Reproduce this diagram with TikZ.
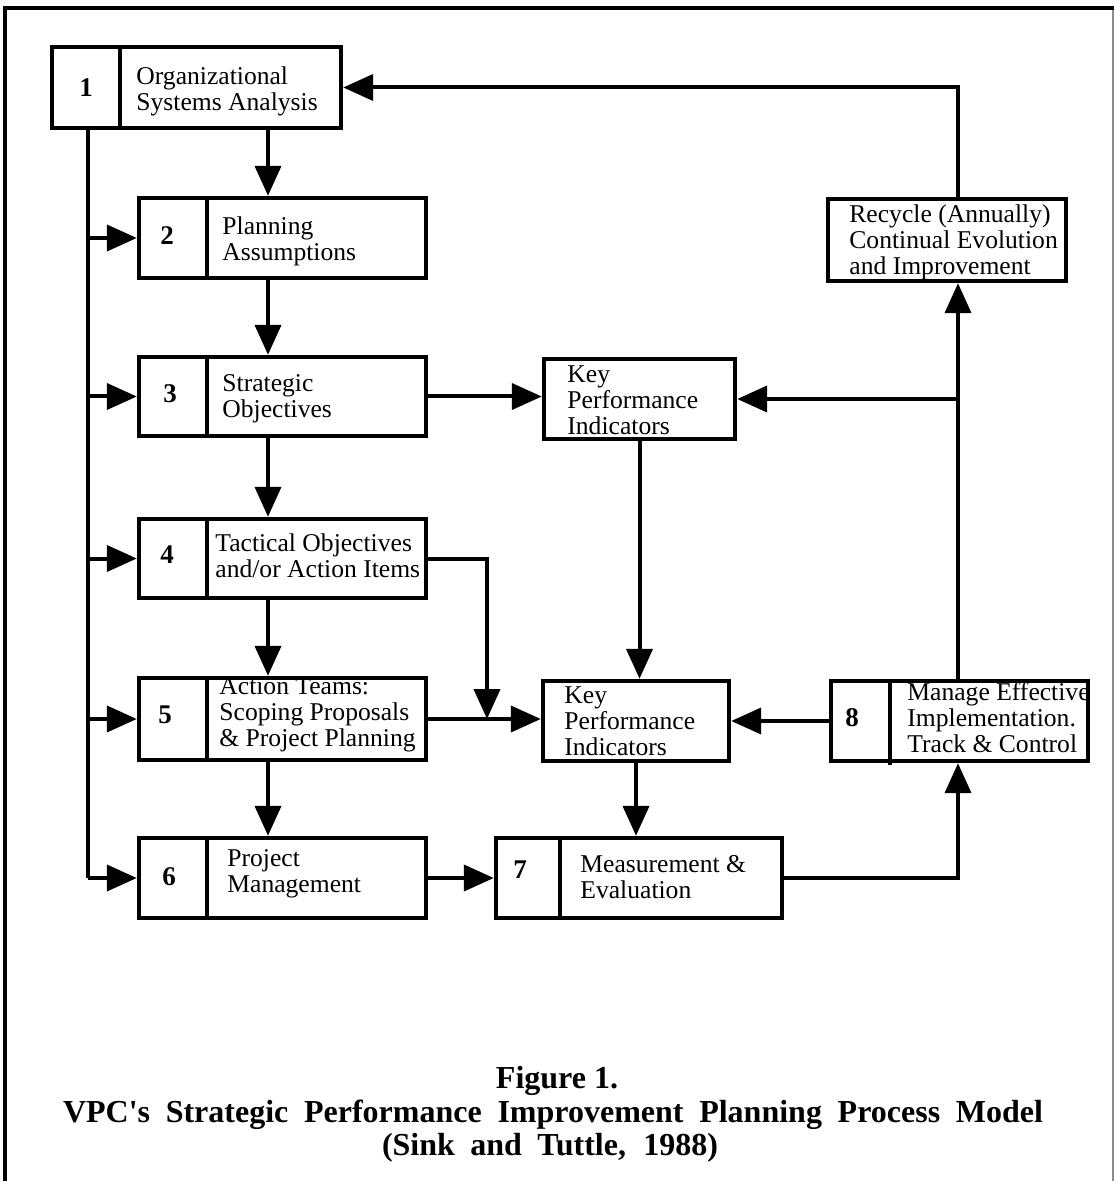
\documentclass[tikz,border=0pt]{standalone}
\usepackage{fontspec}
\setmainfont{Liberation Serif}
\usetikzlibrary{arrows.meta,fit}
\begin{document}
\begin{tikzpicture}[x=0.5pt,y=-0.5pt,
  box/.style={draw,line width=2.2pt,inner sep=0pt},
  divider/.style={line width=1.6pt},
  conn/.style={line width=2pt},
  arr/.style={conn,-{Triangle[length=15pt,width=13pt]}},
  num/.style={font=\fontsize{13.5}{14}\bfseries\selectfont,inner sep=0pt},
  lbl/.style={font=\fontsize{12.8}{13}\selectfont,align=left,anchor=west,inner sep=0pt},
  captext/.style={font=\fontsize{16}{17}\bfseries\selectfont,inner sep=0pt}]
\useasboundingbox (0,0) rectangle (1114,1181);
% page frame
\draw[line width=1.6pt] (5,1181) -- (5,8) -- (1114,8);
\draw[line width=0.6pt,black!45] (1113,10) -- (1113,1181);

% process boxes
\node[box,fit={(52,47) (341,128)}] (b1) {};
\node[box,fit={(139,198) (426,278)}] (b2) {};
\node[box,fit={(139,357) (426,436)}] (b3) {};
\node[box,fit={(139,519) (426,598)}] (b4) {};
\node[box,fit={(139,678) (426,760)}] (b5) {};
\node[box,fit={(139,838) (426,918)}] (b6) {};
\node[box,fit={(496,838) (782,918)}] (b7) {};
\node[box,fit={(831,681) (1088,761)}] (b8) {};
\node[box,fit={(544,359) (735,439)}] (k1) {};
\node[box,fit={(543,681) (729,761)}] (k2) {};
\node[box,fit={(828,199) (1066,281)}] (rc) {};

% number column dividers
\draw[divider] (120,47) -- (120,128);
\foreach \b in {b2,b3,b4,b5,b6} \draw[divider] (207,0 |- \b.north) -- (207,0 |- \b.south);
\draw[divider] (560,838) -- (560,918);
\draw[divider] (890,681) -- (890,765);

% numbers
\node[num] (n1) at (86,88) {1};
\node[num] (n2) at (167,236) {2};
\node[num] (n3) at (170,394) {3};
\node[num] (n4) at (167,555) {4};
\node[num] (n5) at (165,715) {5};
\node[num] (n6) at (169,877) {6};
\node[num] (n7) at (520,870) {7};
\node[num] (n8) at (852,718) {8};

% labels
\node[lbl] (t1) at (136,91) {Organizational\\Systems Analysis};
\node[lbl] (t2) at (222,241) {Planning\\Assumptions};
\node[lbl] (t3) at (222,399) {Strategic\\Objectives};
\node[lbl] (t4) at (215,556) {Tactical Objectives\\and/or Action Items};
\node[lbl] (t5) at (219,715) {Action Teams:\\Scoping Proposals\\\& Project Planning};
\node[lbl] (t6) at (227,874) {Project\\Management};
\node[lbl] (t7) at (580,877) {Measurement \&\\Evaluation};
\node[lbl] (t8) at (907,718) {Manage Effective\\Implementation.\\Track \& Control};
\node[lbl] (tk1) at (567,400) {Key\\Performance\\Indicators};
\node[lbl] (tk2) at (564,721) {Key\\Performance\\Indicators};
\node[lbl] (trc) at (849,242) {Recycle (Annually)\\Continual Evolution\\and Improvement};

% routing columns
\coordinate (trunk) at (88,0);
\coordinate (spine) at (268,0);
\coordinate (join) at (487,0);
\coordinate (rcx) at (958,0);

% left feed line into boxes 2--6
\draw[conn] (trunk |- b1.south) -- (trunk |- b6.west);
\foreach \b in {b2,b3,b4,b5,b6} \draw[arr] (trunk |- \b.west) -- (\b.west);

% main downward sequence
\draw[arr] (spine |- b1.south) -- (spine |- b2.north);
\draw[arr] (spine |- b2.south) -- (spine |- b3.north);
\draw[arr] (spine |- b3.south) -- (spine |- b4.north);
\draw[arr] (spine |- b4.south) -- (spine |- b5.north);
\draw[arr] (spine |- b5.south) -- (spine |- b6.north);

% key performance indicators
\draw[arr] (b3.east) -- (b3.east -| k1.west);
\draw[arr] (k1.south) -- (k1.south |- k2.north);
\draw[arr] (b4.east) -| (join |- b5.east);
\draw[arr] (b5.east) -- (b5.east -| k2.west);
\draw[arr] (b8.west) -- (b8.west -| k2.east);
\draw[arr] (k2.south) -- (k2.south |- b7.north);

% measurement, implementation and recycle loop
\draw[arr] (b6.east) -- (b6.east -| b7.west);
\draw[arr] (b7.east) -| (rcx |- b8.south);
\draw[arr] (rcx |- b8.north) -- (rcx |- rc.south);
\draw[arr] (rcx |- k1.east) -- (k1.east);
\draw[arr] (rcx |- rc.north) |- (b1.east);

% caption
\node[captext] (c1) at (557,1081) {Figure 1.};
\node[captext] (c2) at (553,1115) {\makebox[490pt][s]{VPC\textquotesingle s Strategic Performance Improvement Planning Process Model}};
\node[captext] (c3) at (550,1148) {\makebox[168pt][s]{(Sink and Tuttle, 1988)}};
\end{tikzpicture}
\end{document}
